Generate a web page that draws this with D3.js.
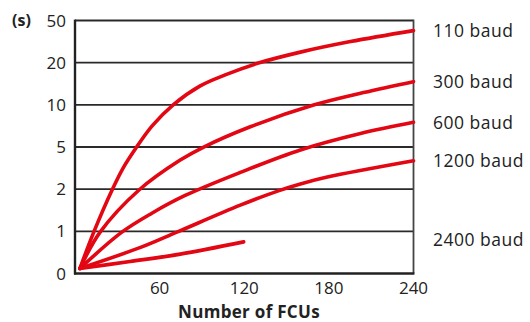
<!DOCTYPE html>
<html>
<head>
<meta charset="utf-8">
<script src="https://cdn.jsdelivr.net/npm/d3@7"></script>
<style>
  html, body { margin: 0; padding: 0; background: #fff; }
  svg { display: block; }
  text { font-family: "Open Sans", "Noto Sans", sans-serif; fill: #222; }
</style>
</head>
<body>
<svg id="chart" width="530" height="322"></svg>
<script>
// ---- data ----
const xTicks = [60, 120, 180, 240];
const yTicks = [0, 1, 2, 5, 10, 20, 50];
const seriesNames = ["110 baud", "300 baud", "600 baud", "1200 baud", "2400 baud"];

const x110 = [3.5, 13.3, 26.3, 34.1, 43.6, 54.7, 69.6, 88.8, 106.5, 130, 159.8, 195.3, 240];
const y110 = [0.12, 0.98, 1.98, 3.5, 4.98, 7.5, 10, 14.5, 17.1, 19.9, 27.5, 35, 42.8];

const x300 = [3.5, 17.8, 45.4, 74.6, 90.9, 124.3, 169.7, 204.5, 240];
const y300 = [0.12, 0.98, 1.98, 4.07, 4.98, 7.4, 10, 12.9, 15.5];

const x600 = [3.5, 33.2, 54.5, 78.1, 117.2, 159.8, 202.4, 240];
const y600 = [0.12, 0.98, 1.43, 1.85, 3.19, 4.79, 6.6, 7.93];

const x1200 = [3.5, 47.4, 72.2, 117.2, 144.1, 159.8, 178.9, 240];
const y1200 = [0.12, 0.63, 0.98, 1.62, 1.96, 2.37, 2.86, 4.02];

const x2400 = [3.5, 39, 74.6, 119.6];
const y2400 = [0.12, 0.285, 0.46, 0.75];

const seriesX = [x110, x300, x600, x1200, x2400];
const seriesY = [y110, y300, y600, y1200, y2400];

// ---- layout ----
const pLeft = 75, pRight = 413.5, pTop = 20.5, pBottom = 273.5;
const svg = d3.select("#chart");

const x = d3.scaleLinear().domain([0, 240]).range([pLeft, pRight]);
const step = (pBottom - pTop) / (yTicks.length - 1);
const y = d3.scaleLinear().domain(yTicks).range(yTicks.map((d, i) => pBottom - i * step));

// gridlines
svg.append("g").selectAll("line").data(yTicks.slice(1)).join("line")
  .attr("x1", pLeft).attr("x2", pRight)
  .attr("y1", d => y(d)).attr("y2", d => y(d))
  .attr("stroke", "#2a2a2a").attr("stroke-width", 1.8);

// right border
svg.append("line").attr("x1", pRight).attr("x2", pRight).attr("y1", pTop - 0.9).attr("y2", pBottom)
  .attr("stroke", "#444").attr("stroke-width", 1.8);

// y axis labels
svg.append("g").selectAll("text").data(yTicks).join("text")
  .attr("x", 66).attr("y", d => y(d)).attr("dy", "0.36em")
  .attr("text-anchor", "end").attr("font-size", 17)
  .text(d => d);

svg.append("text").attr("x", 12).attr("y", 20.5).attr("dy", "0.36em")
  .attr("font-size", 16).attr("font-weight", "bold").text("(s)");

// x axis labels
svg.append("g").selectAll("text").data(xTicks).join("text")
  .attr("x", d => x(d)).attr("y", 288).attr("dy", "0.36em")
  .attr("text-anchor", "middle").attr("font-size", 17)
  .text(d => d);

svg.append("text").attr("x", 249).attr("y", 311.5).attr("dy", "0.36em")
  .attr("text-anchor", "middle").attr("font-size", 17).attr("font-weight", "bold")
  .attr("letter-spacing", 0.3)
  .text("Number of FCUs");

// curves
const line = d3.line().x(d => x(d[0])).y(d => y(d[1])).curve(d3.curveCatmullRom.alpha(0.5));
seriesX.forEach((xs, i) => {
  const pts = xs.map((v, j) => [v, seriesY[i][j]]);
  svg.append("path").datum(pts).attr("d", line)
    .attr("fill", "none").attr("stroke", "#e30613").attr("stroke-width", 3.6)
    .attr("stroke-linecap", "round").attr("stroke-linejoin", "round");
});

// axes lines (left & bottom) on top
svg.append("line").attr("x1", pLeft).attr("x2", pLeft).attr("y1", pTop - 0.9).attr("y2", pBottom + 1)
  .attr("stroke", "#222").attr("stroke-width", 2.4);
svg.append("line").attr("x1", pLeft - 1).attr("x2", pRight + 0.9).attr("y1", pBottom).attr("y2", pBottom)
  .attr("stroke", "#222").attr("stroke-width", 2.4);

// series labels
const labelY = [y110[y110.length - 1], y300[y300.length - 1], y600[y600.length - 1], y1200[y1200.length - 1], 0.8];
svg.append("g").selectAll("text").data(seriesNames).join("text")
  .attr("x", 433).attr("y", (d, i) => y(labelY[i])).attr("dy", "0.36em")
  .attr("font-size", 17.5).attr("letter-spacing", 0.5).text(d => d);
</script>
</body>
</html>
